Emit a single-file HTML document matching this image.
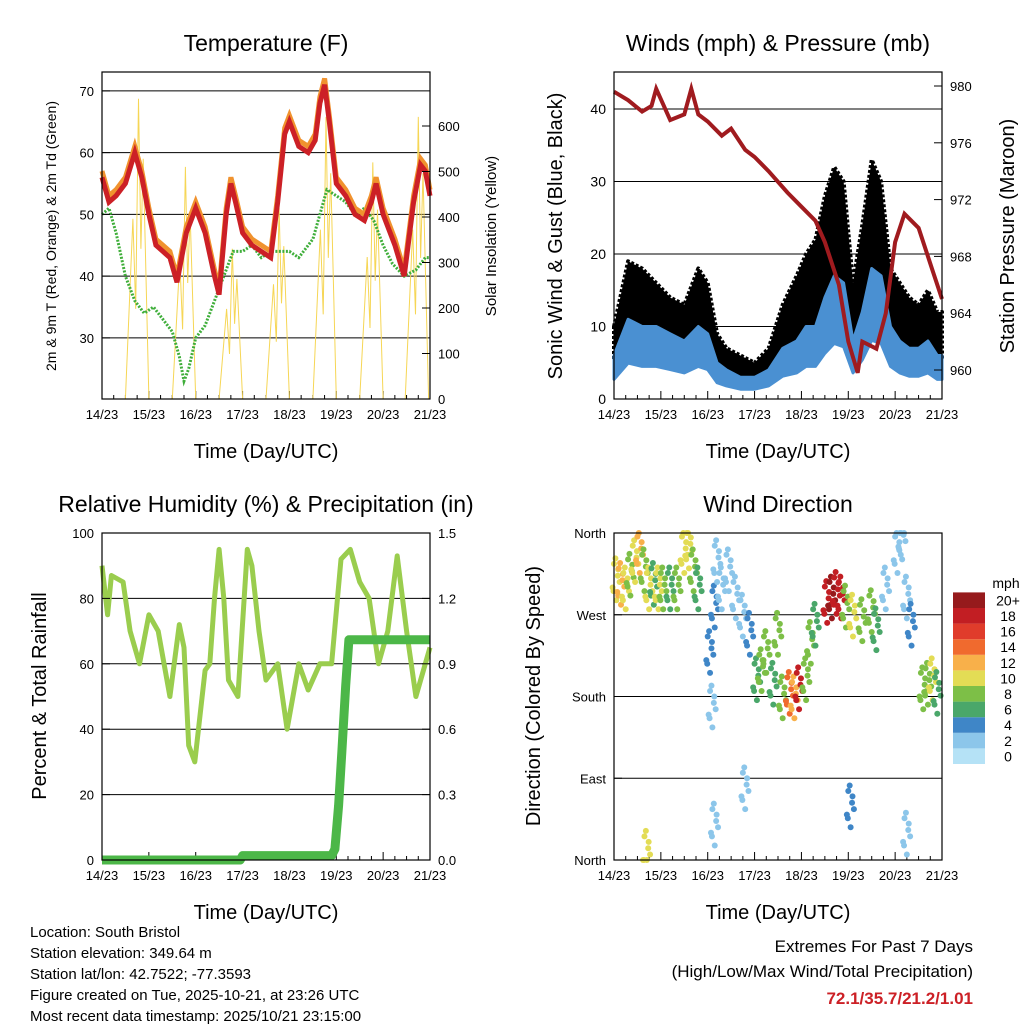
<!DOCTYPE html>
<html><head><meta charset="utf-8"><style>
body{margin:0;background:#fff}
svg{display:block;font-family:"Liberation Sans",Arial,sans-serif}
</style></head><body>
<svg id="c" width="1024" height="1024" viewBox="0 0 1024 1024"></svg>
<script>
// ---- data ----
const dayTicks=["14/23","15/23","16/23","17/23","18/23","19/23","20/23","21/23"];
const tTime=[0,0.15,0.3,0.5,0.7,0.85,1.0,1.15,1.3,1.45,1.6,1.8,2.0,2.2,2.4,2.5,2.65,2.75,2.85,3.0,3.2,3.4,3.6,3.75,3.9,4.0,4.2,4.4,4.55,4.65,4.75,4.85,5.0,5.2,5.4,5.6,5.75,5.85,6.0,6.25,6.45,6.65,6.8,6.9,7.0];
const tempF=[56,52,53,55,60,56,50,45,44,43,39,47,51,47,40,37,50,55,52,47,45,44,43,52,63,65,61,60,62,68,71,65,55,53,50,49,52,55,50,45,40,52,58,57,53];
const dTime=[0,0.15,0.3,0.5,0.7,0.9,1.1,1.3,1.5,1.65,1.75,1.85,2.0,2.2,2.4,2.6,2.8,3.0,3.2,3.4,3.6,3.8,4.0,4.2,4.5,4.65,4.8,5.0,5.2,5.4,5.6,5.8,6.0,6.2,6.45,6.7,6.9,7.0];
const dewF=[50,51,47,40,36,34,35,33,31,27,23,25,30,32,36,40,44,44,45,43,44,44,44,43,46,50,54,53,52,50,51,49,45,42,40,41,43,43];
const solarPeakDay=[0.78,1.78,2.78,3.78,4.78,5.78,6.75];
const solarPeak=[660,510,330,420,620,520,620];
const wTime=[0,0.3,0.6,0.9,1.2,1.5,1.8,2.0,2.2,2.4,2.7,3.0,3.3,3.6,3.9,4.1,4.3,4.5,4.7,4.9,5.1,5.3,5.5,5.7,5.9,6.1,6.3,6.5,6.7,6.9,7.0];
const windMph=[6,11,10,10,9,8,10,9,5,4,3,3,4,7,8,10,10,14,17,16,8,12,18,17,10,8,7,7,8,6,6];
const gustMph=[10,19,18,16,14,13,18,16,9,7,6,5,7,13,17,20,22,28,32,30,16,24,33,30,18,16,14,13,15,12,12];
const pTime=[0,0.3,0.6,0.8,0.9,1.2,1.5,1.65,1.8,2.0,2.3,2.5,2.8,3.0,3.3,3.7,4.0,4.3,4.5,4.8,5.0,5.2,5.3,5.6,5.8,6.0,6.2,6.5,6.8,7.0];
const pressMb=[979.6,979,978.2,978.6,979.8,977.6,978,979.8,978,977.5,976.5,977,975.5,975,974,972.5,971.5,970.5,969,966,962,959.8,962,961.5,964,969,971,970,967,965];
const rhTime=[0,0.12,0.2,0.45,0.6,0.8,1.0,1.2,1.45,1.65,1.75,1.85,1.98,2.2,2.3,2.4,2.5,2.6,2.7,2.9,3.1,3.2,3.35,3.5,3.75,3.95,4.2,4.4,4.65,4.9,5.1,5.3,5.5,5.7,5.9,6.1,6.3,6.5,6.7,7.0];
const rhPct=[90,75,87,85,70,60,75,70,50,72,65,35,30,58,60,80,95,80,55,50,95,90,70,55,60,40,60,52,60,60,92,95,85,80,60,70,93,70,50,65];
const prTime=[0,2.95,3.0,4.9,4.97,5.05,5.12,5.2,5.27,7.0];
const precipIn=[0,0,0.02,0.02,0.05,0.25,0.5,0.8,1.01,1.01];
const dirTime=[0.05,0.15,0.25,0.35,0.45,0.55,0.65,0.75,0.85,0.95,1.05,1.2,1.35,1.5,1.6,1.7,1.8,2.05,2.1,2.15,2.2,2.3,2.45,2.6,2.75,2.9,3.05,3.15,3.25,3.4,3.5,3.6,3.75,3.85,3.95,4.1,4.2,4.3,4.55,4.65,4.75,4.85,4.95,5.1,5.3,5.5,5.6,5.8,6.05,6.15,6.25,6.35,6.6,6.7,6.8,6.9,0.7,2.15,2.8,5.05,6.25];
const dirDeg=[310,305,300,315,330,340,320,300,305,300,300,300,300,340,345,320,300,230,170,280,330,300,320,290,270,250,200,210,230,195,250,180,185,180,190,200,240,260,285,290,295,290,280,270,265,275,255,300,340,355,290,260,190,195,200,185,10,40,80,60,30];
const dirSpeed=[10,12,10,8,9,11,8,9,6,10,7,6,7,10,9,7,6,3,2,3,2,2,2,2,1,3,5,7,8,6,8,7,14,12,18,8,7,6,18,19,18,17,8,9,7,8,6,2,2,1,1,3,8,7,9,6,9,2,2,3,1];
const legendLevels=["0","2","4","6","8","10","12","14","16","18","20+"];
const legendColors=["#b5e2f6","#8cc6ea","#3f86c7","#4aa76a","#7dbf47","#e3dc55","#f8b04a","#f06a2e","#e03c2b","#c21e23","#961a1c"];
// ---- helpers ----
const NS="http://www.w3.org/2000/svg",svg=document.getElementById('c');
function mk(tag,at,parent){const e=document.createElementNS(NS,tag);for(const k in at)e.setAttribute(k,at[k]);(parent||svg).appendChild(e);return e;}
function txt(s,x,y,size,anchor,rot,color,weight){const e=mk('text',{x:x,y:y,'font-size':size,'text-anchor':anchor||'middle',fill:color||'#000'});if(weight)e.setAttribute('font-weight',weight);if(rot)e.setAttribute('transform','rotate('+rot+' '+x+' '+y+')');e.textContent=s;return e;}
function colorFor(s){let i=Math.min(10,Math.max(0,Math.round(s/2)));return legendColors[i];}
function panel(x0,y0,name,title){
  const g=mk('g',{});
  const W=328,H=327;
  const t=txt(title,x0+W/2,y0-21,23,'middle',0);
  const xs=d=>x0+d*W/7;
  dayTicks.forEach((l,i)=>{const tl=txt(l,xs(i),y0+H+20,13);
    mk('line',{x1:xs(i),x2:xs(i),y1:y0+H,y2:y0+H-8,stroke:'#000'});});
  for(let d=0;d<7;d+=0.25){if(d%1)mk('line',{x1:xs(d),x2:xs(d),y1:y0+H,y2:y0+H-4,stroke:'#000'});}
  const xt=txt('Time (Day/UTC)',x0+W/2,y0+H+59,20);
  return {g,x0,y0,W,H,xs};
}
function frame(p){mk('rect',{x:p.x0,y:p.y0,width:p.W,height:p.H,fill:'none',stroke:'#000','stroke-width':1.2});}
function path(pts){return pts.map((p,i)=>(i?'L':'M')+p[0].toFixed(1)+' '+p[1].toFixed(1)).join('');}
function yTicks(p,vals,fy,side,labels,size){vals.forEach((v,i)=>{const y=fy(v);const x=side=='l'?p.x0:p.x0+p.W;
  mk('line',{x1:x,x2:x+(side=='l'?8:-8),y1:y,y2:y,stroke:'#000'});
  const t=txt(labels?labels[i]:String(v),side=='l'?p.x0-8:p.x0+p.W+8,y+5,size||13,side=='l'?'end':'start');});}
function grid(p,ys){ys.forEach(y=>mk('line',{x1:p.x0,x2:p.x0+p.W,y1:y,y2:y,stroke:'#000','stroke-width':1}));}

// ---- Panel 1: temperature ----
{const p=panel(102,72,'temperature-panel','Temperature (F)');
 const fy=v=>399-(v-20.1)*6.175, fs=v=>399-v*0.455;
 grid(p,[30,40,50,60,70].map(fy));
 solarPeak.forEach((v,i)=>{const d=solarPeakDay[i];
   const e=mk('path',{d:path([[p.xs(d-0.28),fs(0)],[p.xs(d-0.12),fs(v*0.6)],[p.xs(d-0.06),fs(v*0.3)],[p.xs(d),fs(v)],[p.xs(d+0.05),fs(v*0.5)],[p.xs(d+0.1),fs(v*0.8)],[p.xs(d+0.22),fs(0)]]),fill:'none',stroke:'#f6d655','stroke-width':1});
   });
 let e=mk('path',{d:path(dTime.map((d,i)=>[p.xs(d),fy(dewF[i])])),fill:'none',stroke:'#3fae3a','stroke-width':3,'stroke-dasharray':'2 1.5'});
 
 e=mk('path',{d:path(tTime.map((d,i)=>[p.xs(d),fy(tempF[i]+1)])),fill:'none',stroke:'#f0922e','stroke-width':5});
 
 e=mk('path',{d:path(tTime.map((d,i)=>[p.xs(d),fy(tempF[i])])),fill:'none',stroke:'#cc2026','stroke-width':5});
 
 frame(p);
 yTicks(p,[30,40,50,60,70],fy,'l');
 yTicks(p,[0,100,200,300,400,500,600],fs,'r');
 let t=txt('2m & 9m T (Red, Orange) & 2m Td (Green)',56,236,14,'middle',-90);
 t=txt('Solar Insolation (Yellow)',496,236,15,'middle',-90);}

// ---- Panel 2: winds & pressure ----
{const p=panel(614,72,'winds-panel','Winds (mph) & Pressure (mb)');
 const fy=v=>399-v*7.25, fp=v=>86+(980-v)*14.2;
 grid(p,[10,20,30,40].map(fy));
 const up=wTime.map((d,i)=>[p.xs(d),fy(gustMph[i])]);
 const lo=wTime.map((d,i)=>[p.xs(d),fy(windMph[i]*0.9)]).reverse();
 let e=mk('path',{d:path(up.concat(lo))+'Z',fill:'#000',stroke:'#000','stroke-width':4,'stroke-dasharray':'3 2','stroke-linejoin':'round'});
 
 const wu=wTime.map((d,i)=>[p.xs(d),fy(windMph[i])]);
 const wl=wTime.map((d,i)=>[p.xs(d),fy(windMph[i]*0.45)]).reverse();
 e=mk('path',{d:path(wu.concat(wl))+'Z',fill:'#4a90d2',stroke:'#4a90d2','stroke-width':3,'stroke-linejoin':'round'});
 
 e=mk('path',{d:path(pTime.map((d,i)=>[p.xs(d),fp(pressMb[i])])),fill:'none',stroke:'#a01b1f','stroke-width':4});
 
 frame(p);
 yTicks(p,[0,10,20,30,40],fy,'l',null,14);
 yTicks(p,[960,964,968,972,976,980],fp,'r');
 let t=txt('Sonic Wind & Gust (Blue, Black)',562,236,20,'middle',-90);
 t=txt('Station Pressure (Maroon)',1014,236,20,'middle',-90);}

// ---- Panel 3: RH & precip ----
{const p=panel(102,533,'humidity-panel','Relative Humidity (%) & Precipitation (in)');
 const fy=v=>860-v*3.27, fr=v=>860-v*218;
 grid(p,[20,40,60,80].map(fy));
 let e=mk('path',{d:path(rhTime.map((d,i)=>[p.xs(d),fy(rhPct[i])])),fill:'none',stroke:'#9acd4e','stroke-width':5,'stroke-linejoin':'round'});
 
 e=mk('path',{d:path(prTime.map((d,i)=>[p.xs(d),fr(precipIn[i])])),fill:'none',stroke:'#4cb748','stroke-width':9,'stroke-linejoin':'round'});
 
 frame(p);
 yTicks(p,[0,20,40,60,80,100],fy,'l');
 yTicks(p,[0,0.3,0.6,0.9,1.2,1.5],fr,'r',["0.0","0.3","0.6","0.9","1.2","1.5"]);
 let t=txt('Percent & Total Rainfall',46,696,20,'middle',-90);}

// ---- Panel 4: wind direction ----
{const p=panel(614,533,'wind-direction-panel','Wind Direction');
 const fy=v=>860-v*327/360;
 grid(p,[90,180,270].map(fy));
 const offT=[-0.06,0.04,-0.02,0.07,0.0,-0.05,0.03,-0.08];
 const offD=[-14,10,22,-4,-24,16,3,-10];
 dirTime.forEach((d,i)=>{for(let k=0;k<8;k++){const dd=d+offT[k], dv=dirDeg[i]+offD[k];
   const c=mk('circle',{cx:p.xs(dd),cy:fy(Math.max(0,Math.min(360,dv))),r:3,fill:colorFor(dirSpeed[i])});
   }});
 frame(p);
 yTicks(p,[0,90,180,270,360],fy,'l',["North","East","South","West","North"]);
 let t=txt('Direction (Colored By Speed)',540,696,20,'middle',-90);
 const lg=mk('g',{});
 txt('mph',1006,588,14,'middle',0);
 legendColors.forEach((c,i)=>{const y=764-(i+1)*15.6;
   const r=mk('rect',{x:953,y:y,width:32,height:15.6,fill:c},lg);
   txt(legendLevels[i],1008,y+13,14,'middle',0);});}

// ---- footer ----
["Location: South Bristol","Station elevation: 349.64 m","Station lat/lon: 42.7522; -77.3593","Figure created on Tue, 2025-10-21, at 23:26 UTC","Most recent data timestamp: 2025/10/21 23:15:00"].forEach((s,i)=>{
 const t=txt(s,30,937+i*21,15,'start');});
let t=txt('Extremes For Past 7 Days',973,952,17,'end');
t=txt('(High/Low/Max Wind/Total Precipitation)',973,977,17,'end');
t=txt('72.1/35.7/21.2/1.01',973,1004,17,'end',0,'#cc2026','bold');
</script>
</body></html>
